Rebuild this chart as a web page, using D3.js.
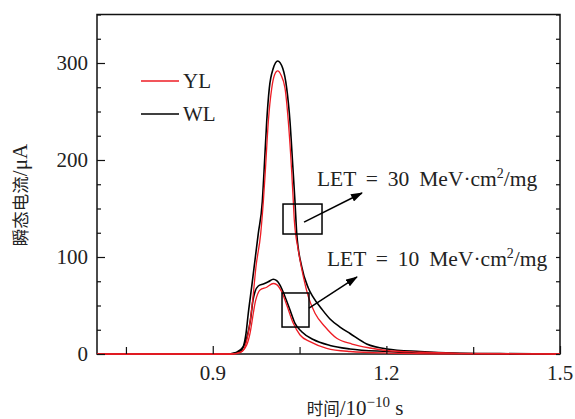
<!DOCTYPE html>
<html>
<head>
<meta charset="utf-8">
<script src="https://cdn.jsdelivr.net/npm/d3@7/dist/d3.min.js"></script>
<style>
  html, body { margin: 0; padding: 0; background: #fff; }
  svg { display: block; }
  .num { font-family: "Liberation Serif", "Times New Roman", serif; fill: #222; }
  .cjk { font-family: "Noto Sans CJK SC", sans-serif; fill: #222; }
</style>
</head>
<body>
<script>
// Transient current pulses (time in 1e-10 s, current in µA)
const ylLet30 = [
  [0.70, 0], [0.9333, 0], [0.9500, 2.4], [0.9575, 11], [0.9632, 28.1], [0.9690, 55.7],
  [0.9747, 90], [0.9829, 124.4], [0.9874, 157], [0.9908, 187.9], [0.9960, 239.5],
  [1.0019, 273.9], [1.0067, 287.6], [1.0122, 291.8], [1.0179, 287.6], [1.0249, 273.9],
  [1.0306, 239.5], [1.0364, 187.9], [1.0392, 157], [1.0409, 138.1], [1.0478, 107.2],
  [1.0565, 79.7], [1.0651, 59.1], [1.0767, 42], [1.0940, 28.1], [1.1142, 16.2],
  [1.1406, 10.3], [1.1717, 6.2], [1.2006, 3.6], [1.2581, 1.8], [1.3272, 0.7],
  [1.4309, 0.2], [1.50, 0]
];
const wlLet30 = [
  [0.70, 0], [0.9264, 0], [0.9367, 0.7], [0.9471, 2.4], [0.9528, 7.5], [0.9575, 21.3],
  [0.9614, 42], [0.9673, 69.4], [0.9730, 96.9], [0.9787, 124.4], [0.9856, 157],
  [0.9886, 187.9], [0.9932, 239.5], [0.9977, 273.9], [1.0046, 294.5], [1.0122, 302.1],
  [1.0209, 294.5], [1.0278, 273.9], [1.0335, 239.5], [1.0382, 194.8], [1.0421, 157],
  [1.0451, 124.4], [1.0537, 90], [1.0651, 68], [1.0732, 58.8], [1.0883, 46.4],
  [1.1026, 36.1], [1.1199, 27.8], [1.1372, 21.1], [1.1660, 10.3], [1.2006, 5.2],
  [1.2581, 2.6], [1.3151, 1.0], [1.3963, 0.4], [1.50, 0]
];
const ylLet10 = [
  [0.70, 0], [0.9333, 0], [0.9471, 1.5], [0.9587, 9.3], [0.9644, 21.3], [0.9701, 42],
  [0.9730, 52.3], [0.9760, 59.1], [0.9817, 66], [0.9932, 68.8], [1.0046, 72.7],
  [1.0105, 71.5], [1.0191, 64.2], [1.0278, 50.5], [1.0392, 31.6], [1.0508, 19.6],
  [1.0680, 12.7], [1.0969, 5.9], [1.1372, 2.6], [1.2006, 1.0], [1.3100, 0.2], [1.50, 0]
];
const wlLet10 = [
  [0.70, 0], [0.9281, 0], [0.9402, 1.5], [0.9528, 7.5], [0.9592, 17.5], [0.9652, 35.1],
  [0.9696, 55.7], [0.9730, 64.2], [0.9787, 70.1], [0.9874, 72.2], [0.9960, 74.5],
  [1.0046, 77], [1.0105, 75.6], [1.0162, 71.1], [1.0249, 59.1], [1.0335, 45.4],
  [1.0421, 31.6], [1.0537, 23], [1.0737, 14.9], [1.1026, 8.8], [1.1372, 5.2],
  [1.2006, 2.6], [1.2754, 0.8], [1.3963, 0.2], [1.50, 0]
];

const xTicks = [0.75, 0.9, 1.05, 1.2, 1.35, 1.5];
const xTickLabels = [0.9, 1.2, 1.5];
const yTicks = d3.range(0, 351, 25);
const yTickLabels = [0, 100, 200, 300];

const seriesNames = ["YL", "WL"];
const seriesColors = ["#ee1c24", "#000000"];

// Marked regions and their labels: [t0, t1, v0, v1], arrow [t, v] -> [t, v]
const letLabels = ["LET = 30 MeV·cm", "LET = 10 MeV·cm"];
const letBoxes = [[1.0214, 1.0888, 123.7, 154.6], [1.0197, 1.0663, 27.8, 62.9]];
const letArrows = [[[1.0577, 136], [1.1579, 166]], [[1.0663, 47.4], [1.1492, 79.4]]];
const letTextAnchor = [[1.0801, 173.2], [1.0974, 90.7]];

const W = 575, H = 419;
const margin = { left: 97, right: 15, top: 14.5, bottom: 65 };

const svg = d3.select("body").append("svg").attr("width", W).attr("height", H);

const x = d3.scaleLinear().domain([0.7, 1.5]).range([margin.left, W - margin.right]);
const y = d3.scaleLinear().domain([0, 350]).range([H - margin.bottom, margin.top]);

const defs = svg.append("defs");
defs.append("marker")
  .attr("id", "arrowHead")
  .attr("viewBox", "0 0 12 8")
  .attr("refX", 11).attr("refY", 4)
  .attr("markerWidth", 12).attr("markerHeight", 8)
  .attr("markerUnits", "userSpaceOnUse")
  .attr("orient", "auto")
  .append("path").attr("d", "M0,0 L12,4 L0,8 Z").attr("fill", "#000");

// Frame
const x0 = x.range()[0], x1 = x.range()[1], y0 = y.range()[0], y1 = y.range()[1];
svg.append("rect")
  .attr("x", x0).attr("y", y1).attr("width", x1 - x0).attr("height", y0 - y1)
  .attr("fill", "none").attr("stroke", "#111").attr("stroke-width", 1.5);

// Curves
const line = d3.line().x(d => x(d[0])).y(d => y(d[1])).curve(d3.curveMonotoneX);
const plotG = svg.append("g");
[[wlLet10, 1], [wlLet30, 1], [ylLet10, 0], [ylLet30, 0]].forEach(([data, k]) => {
  plotG.append("path")
    .datum(data)
    .attr("d", line)
    .attr("fill", "none")
    .attr("stroke", seriesColors[k])
    .attr("stroke-width", k === 0 ? 1.3 : 1.6)
    .attr("stroke-linejoin", "round");
});

// Left axis with inward ticks
const gyl = svg.append("g").attr("transform", `translate(${x0},0)`)
  .call(d3.axisLeft(y).tickValues(yTicks).tickSize(0).tickFormat(""));
gyl.select(".domain").remove();
gyl.selectAll(".tick line")
  .attr("x1", 0)
  .attr("x2", d => yTickLabels.includes(d) ? 8 : 4)
  .attr("stroke", "#111").attr("stroke-width", 1.2);

// Right axis ticks
const gyr = svg.append("g").attr("transform", `translate(${x1},0)`)
  .call(d3.axisRight(y).tickValues(yTicks).tickSize(0).tickFormat(""));
gyr.select(".domain").remove();
gyr.selectAll(".tick line")
  .attr("x1", 0).attr("x2", -4)
  .attr("stroke", "#111").attr("stroke-width", 1.2);

svg.append("g").selectAll("text").data(yTickLabels).join("text")
  .attr("class", "num")
  .attr("x", x0 - 9).attr("y", d => y(d))
  .attr("dy", "0.34em")
  .attr("text-anchor", "end")
  .attr("font-size", 21)
  .text(d => d);

// Bottom axis with inward ticks
const gxb = svg.append("g").attr("transform", `translate(0,${y0})`)
  .call(d3.axisBottom(x).tickValues(xTicks).tickSize(0).tickFormat(""));
gxb.select(".domain").remove();
gxb.selectAll(".tick line")
  .attr("y1", 0)
  .attr("y2", d => xTickLabels.includes(d) ? -8 : -7)
  .attr("stroke", "#111").attr("stroke-width", 1.2);

svg.append("g").selectAll("text").data(xTickLabels).join("text")
  .attr("class", "num")
  .attr("x", d => x(d)).attr("y", y0 + 26)
  .attr("text-anchor", "middle")
  .attr("font-size", 21)
  .text(d => d3.format(".1f")(d));

// Axis titles
const xt = svg.append("text").attr("x", 355).attr("y", 415).attr("text-anchor", "middle");
xt.append("tspan").attr("class", "cjk").attr("font-size", 16.5).text("时间");
xt.append("tspan").attr("class", "num").attr("font-size", 21).text("/10");
xt.append("tspan").attr("class", "num").attr("font-size", 15).attr("dy", -8).text("−10");
xt.append("tspan").attr("class", "num").attr("font-size", 21).attr("dy", 8).text(" s");

const yt = svg.append("text")
  .attr("transform", `translate(27,195) rotate(-90)`)
  .attr("text-anchor", "middle");
yt.append("tspan").attr("class", "cjk").attr("font-size", 17.5).text("瞬态电流");
yt.append("tspan").attr("class", "num").attr("font-size", 21).text("/μA");

// Legend
const legend = svg.append("g");
seriesNames.forEach((name, i) => {
  const ly = 81 + i * 33;
  legend.append("line")
    .attr("x1", 141).attr("x2", 179).attr("y1", ly).attr("y2", ly)
    .attr("stroke", seriesColors[i]).attr("stroke-width", i === 0 ? 1.3 : 1.6);
  legend.append("text").attr("class", "num")
    .attr("x", 183).attr("y", ly).attr("dy", "0.35em")
    .attr("font-size", 21).text(name);
});

// Marked regions with arrows and LET labels
const ann = svg.append("g");
letBoxes.forEach((b, i) => {
  ann.append("rect")
    .attr("x", x(b[0])).attr("y", y(b[3]))
    .attr("width", x(b[1]) - x(b[0])).attr("height", y(b[2]) - y(b[3]))
    .attr("fill", "none").attr("stroke", "#000").attr("stroke-width", 1.5);
  const a = letArrows[i];
  ann.append("line")
    .attr("x1", x(a[0][0])).attr("y1", y(a[0][1]))
    .attr("x2", x(a[1][0])).attr("y2", y(a[1][1]))
    .attr("stroke", "#000").attr("stroke-width", 1.5)
    .attr("marker-end", "url(#arrowHead)");
  const t = ann.append("text").attr("class", "num")
    .attr("x", x(letTextAnchor[i][0])).attr("y", y(letTextAnchor[i][1]))
    .attr("font-size", 21.5)
    .attr("word-spacing", 4.5);
  t.append("tspan").text(letLabels[i]);
  t.append("tspan").attr("font-size", 14).attr("dy", -8).text("2");
  t.append("tspan").attr("dy", 8).text("/mg");
});
</script>
</body>
</html>
